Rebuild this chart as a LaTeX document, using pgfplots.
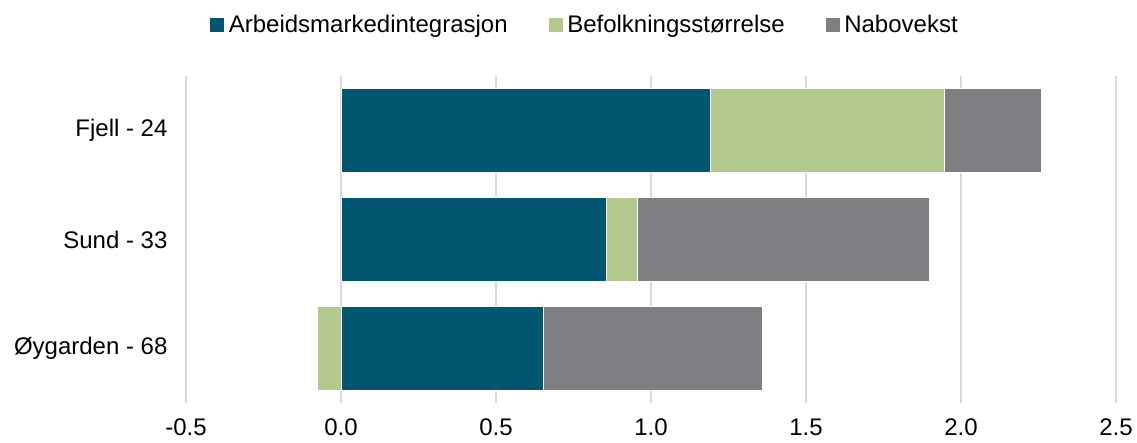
\documentclass[border=0pt]{standalone}
\usepackage{fontspec}
\setmainfont{Liberation Sans}
\usepackage{pgfplots}
\pgfplotsset{compat=1.18}
\definecolor{cA}{HTML}{02566F}
\definecolor{cB}{HTML}{B2C88C}
\definecolor{cC}{HTML}{7F7E83}
\definecolor{gridc}{HTML}{D9D9D9}
\begin{document}
\begin{tikzpicture}[font=\fontsize{24}{28}\selectfont]
\pgfplotsset{
  base/.style={
    scale only axis, width=930pt, height=327pt,
    xmin=-0.5, xmax=2.5, ymin=-0.5, ymax=2.5, y dir=reverse,
    bar width=0.77,
  },
}
\begin{axis}[
    base, name=main,
    xbar stacked,
    xtick={-0.5,0,0.5,1,1.5,2,2.5},
    /pgf/number format/fixed,
    /pgf/number format/fixed zerofill,
    /pgf/number format/precision=1,
    /pgf/number format/assume math mode=true,
    xticklabel style={yshift=-12pt},
    ytick={0,1,2},
    yticklabels={Fjell - 24, Sund - 33, Øygarden - 68},
    yticklabel style={xshift=-15pt},
    xmajorgrids,
    major grid style={draw=gridc, line width=1.3pt},
    axis line style={draw=none},
    tick style={draw=none},
    legend columns=-1,
    legend style={at={(0.4285,1.156)}, anchor=center, draw=none, fill=none,
        nodes={inner sep=2pt},
        /tikz/every odd column/.append style={column sep=2pt},
        /tikz/every even column/.append style={column sep=38pt}},
    legend image code/.code={\fill[#1] (0pt,-7.5pt) rectangle (15pt,7.5pt);},
]
% Arbeidsmarkedintegrasjon
\addplot[fill=cA, draw=white, line width=0.6pt] coordinates {(1.19,0) (0.855,1) (0.652,2)};
% Befolkningsstørrelse (Øygarden negative, drawn in overlay axis)
\addplot[fill=cB, draw=white, line width=0.6pt] coordinates {(0.755,0) (0.10,1) (0,2)};
% Nabovekst
\addplot[fill=cC, draw=white, line width=0.6pt] coordinates {(0.313,0) (0.942,1) (0.706,2)};
\legend{Arbeidsmarkedintegrasjon, Befolkningsstørrelse, Nabovekst}
\end{axis}
\begin{axis}[base, hide axis, xbar]
\addplot[fill=cB, draw=white, line width=0.6pt] coordinates {(-0.077,2)};
\end{axis}
\pgfresetboundingbox
\path ([shift={(-186pt,-40pt)}]main.south west) rectangle ([shift={(21pt,76pt)}]main.north east);
\end{tikzpicture}
\end{document}
